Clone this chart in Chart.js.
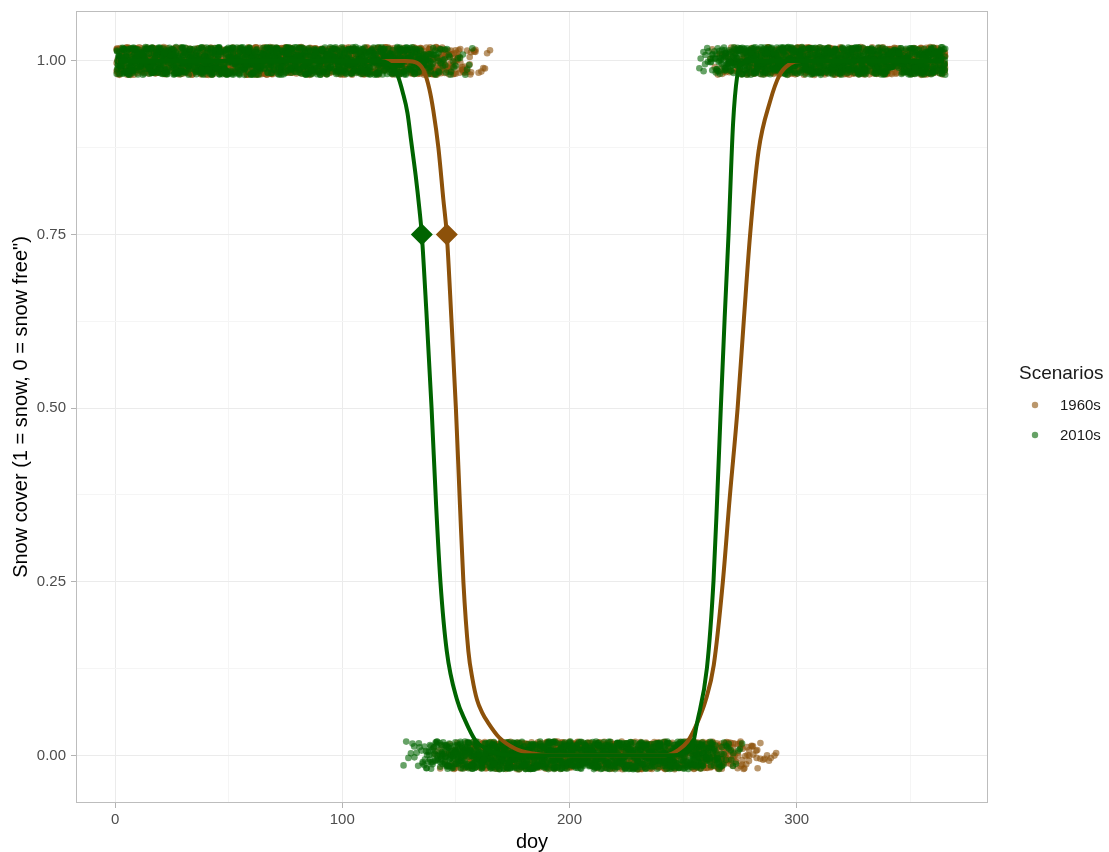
<!DOCTYPE html>
<html>
<head>
<meta charset="utf-8">
<title>Snow cover by day of year</title>
<script src="https://cdn.jsdelivr.net/npm/chart.js@4.4.0/dist/chart.umd.min.js"></script>
<style>
  html, body { margin: 0; padding: 0; background: #fff; }
</style>
</head>
<body>
<canvas id="snowChart" width="1109" height="852"></canvas>
<script>
// Scenario names and colours
const scenarios = ['1960s', '2010s'];
const lineColors = ['#8c510a', '#006400'];
const pointColors = ['rgba(140, 81, 10, 0.6)', 'rgba(0, 100, 0, 0.6)'];

// Per-year last snow day in spring and first snow day in autumn (doy)
const meltDoy1960s = [139, 142, 145, 147, 149, 151, 153, 156, 159, 165];
const onsetDoy1960s = [262, 265, 268, 270, 272, 274, 277, 280, 285, 292];
const meltDoy2010s = [126, 131, 134, 136, 138, 140, 142, 145, 149, 157];
const onsetDoy2010s = [257, 259, 261, 263, 265, 266, 268, 270, 273, 277];

// Fitted snow cover curves
const curveDoy1960s = [1, 128, 133, 136, 138.3, 140.1, 142.3, 144.5, 146, 148, 150, 151.8, 153.3, 155.5, 157.3, 159.3, 161.5, 164, 169, 176, 183, 192,
                       242, 248, 252, 256, 260, 263.5, 267.5, 270.5, 274, 276.8, 279.5, 283.2, 288.3, 292.5, 297.1, 302, 365];
const curveFit1960s = [1, 1, 0.997, 0.985, 0.96, 0.928, 0.875, 0.8, 0.75, 0.63, 0.5, 0.36, 0.25, 0.15, 0.11, 0.08, 0.062, 0.048, 0.026, 0.01, 0.003, 0,
                       0, 0.008, 0.02, 0.045, 0.08, 0.13, 0.25, 0.37, 0.5, 0.63, 0.75, 0.87, 0.942, 0.98, 0.996, 1, 1];
const curveDoy2010s = [1, 117, 120, 122.5, 124.5, 126.6, 128.7, 130.3, 132.3, 134, 135, 137, 139.3, 141.3, 143.2, 146, 150.5, 154.1, 158.5, 163, 168, 175,
                       246, 250, 253.9, 256.1, 260.5, 263.4, 265, 266.6, 268.3, 270, 272, 273.8, 276, 280, 365];
const curveFit2010s = [1, 1, 0.997, 0.99, 0.978, 0.955, 0.925, 0.885, 0.835, 0.785, 0.75, 0.64, 0.5, 0.36, 0.25, 0.15, 0.08, 0.05, 0.022, 0.01, 0.003, 0,
                       0, 0.003, 0.012, 0.046, 0.126, 0.252, 0.37, 0.5, 0.63, 0.75, 0.91, 0.978, 0.997, 1, 1];

// Day at which the fitted curve crosses 0.75
const thresholdLevel = 0.75;
const thresholdDoy = [146, 135];

// Axis ticks
const xTicks = [0, 50, 100, 150, 200, 250, 300, 350];
const yTicks = [0, 0.125, 0.25, 0.375, 0.5, 0.625, 0.75, 0.875, 1];

// small deterministic generator for geom_jitter-style display offsets
let seed = 20240611;
function rand() {
    seed = (seed + 0x6D2B79F5) | 0;
    let t = Math.imul(seed ^ (seed >>> 15), 1 | seed);
    t = (t + Math.imul(t ^ (t >>> 7), 61 | t)) ^ t;
    return ((t ^ (t >>> 14)) >>> 0) / 4294967296;
}

// One 0/1 observation per day per year, jittered like geom_jitter(width = 0.4, height = 0.02)
function buildPoints(melt, onset) {
    const pts = [];
    for (let yr = 0; yr < melt.length; yr++) {
        for (let d = 1; d <= 365; d++) {
            const snow = (d <= melt[yr] || d >= onset[yr]) ? 1 : 0;
            pts.push({ x: d + (rand() - 0.5) * 0.8, y: snow + (rand() - 0.5) * 0.04 });
        }
    }
    return pts;
}

function toXY(xs, ys) {
    return xs.map((x, i) => ({ x: x, y: ys[i] }));
}

const isMajorX = v => v % 100 === 0;
const isMajorY = v => Math.abs(v * 4 - Math.round(v * 4)) < 1e-6;

// Panel border + legend drawn on the canvas
const panelAndLegend = {
    id: 'panelAndLegend',
    afterDatasetsDraw(chart) {
        const { ctx, chartArea } = chart;
        ctx.save();
        ctx.strokeStyle = '#bdbdbd';
        ctx.lineWidth = 1;
        ctx.strokeRect(chartArea.left + 0.5, chartArea.top + 0.5,
            chartArea.right - chartArea.left - 1, chartArea.bottom - chartArea.top - 1);

        ctx.fillStyle = '#1a1a1a';
        ctx.textBaseline = 'alphabetic';
        ctx.font = '19px "Liberation Sans", Arial, sans-serif';
        ctx.fillText('Scenarios', 1019, 379);
        ctx.font = '15px "Liberation Sans", Arial, sans-serif';
        scenarios.forEach((name, i) => {
            const y = 405 + i * 30;
            ctx.fillStyle = pointColors[i];
            ctx.beginPath();
            ctx.arc(1035, y, 3.2, 0, Math.PI * 2);
            ctx.fill();
            ctx.fillStyle = '#1a1a1a';
            ctx.fillText(name, 1060, y + 5);
        });
        ctx.restore();
    }
};

const ctx = document.getElementById('snowChart').getContext('2d');

new Chart(ctx, {
    type: 'scatter',
    data: {
        datasets: [
            {
                label: scenarios[0],
                data: buildPoints(meltDoy1960s, onsetDoy1960s),
                backgroundColor: pointColors[0],
                borderWidth: 0,
                pointRadius: 3.3,
                order: 5
            },
            {
                label: scenarios[1],
                data: buildPoints(meltDoy2010s, onsetDoy2010s),
                backgroundColor: pointColors[1],
                borderWidth: 0,
                pointRadius: 3.3,
                order: 4
            },
            {
                label: scenarios[0] + ' fit',
                data: toXY(curveDoy1960s, curveFit1960s),
                showLine: true,
                borderColor: lineColors[0],
                borderWidth: 4,
                pointRadius: 0,
                cubicInterpolationMode: 'monotone',
                order: 3
            },
            {
                label: scenarios[1] + ' fit',
                data: toXY(curveDoy2010s, curveFit2010s),
                showLine: true,
                borderColor: lineColors[1],
                borderWidth: 4,
                pointRadius: 0,
                cubicInterpolationMode: 'monotone',
                order: 2
            },
            {
                label: 'threshold',
                data: thresholdDoy.map(d => ({ x: d, y: thresholdLevel })),
                pointStyle: 'rectRot',
                pointRadius: 11,
                backgroundColor: lineColors,
                borderWidth: 0,
                order: 1
            }
        ]
    },
    options: {
        responsive: false,
        animation: false,
        events: [],
        layout: { padding: { top: 10, right: 121, left: 0, bottom: 0 } },
        plugins: {
            legend: { display: false },
            tooltip: { enabled: false }
        },
        scales: {
            x: {
                type: 'linear',
                min: -17.2,
                max: 384.2,
                afterBuildTicks: scale => { scale.ticks = xTicks.map(v => ({ value: v })); },
                afterFit: scale => { scale.height = 49; scale.paddingLeft = 0; scale.paddingRight = 0; },
                border: { display: false },
                grid: {
                    color: c => isMajorX(c.tick.value) ? '#ebebeb' : '#f5f5f5',
                    tickColor: c => isMajorX(c.tick.value) ? '#b3b3b3' : 'rgba(0,0,0,0)',
                    tickLength: 5,
                    lineWidth: 1
                },
                ticks: {
                    autoSkip: false,
                    maxRotation: 0,
                    padding: 3,
                    color: '#4d4d4d',
                    font: { family: '"Liberation Sans", Arial, sans-serif', size: 15 },
                    callback: v => isMajorX(v) ? String(v) : ''
                },
                title: {
                    display: true,
                    text: 'doy',
                    color: '#000000',
                    font: { family: '"Liberation Sans", Arial, sans-serif', size: 20, lineHeight: 1 },
                    padding: { top: 0, bottom: 0 }
                }
            },
            y: {
                type: 'linear',
                min: -0.0686,
                max: 1.072,
                afterBuildTicks: scale => { scale.ticks = yTicks.map(v => ({ value: v })); },
                afterFit: scale => { scale.width = 76; scale.paddingTop = 0; scale.paddingBottom = 0; },
                border: { display: false },
                grid: {
                    color: c => isMajorY(c.tick.value) ? '#ebebeb' : '#f5f5f5',
                    tickColor: c => isMajorY(c.tick.value) ? '#b3b3b3' : 'rgba(0,0,0,0)',
                    tickLength: 5,
                    lineWidth: 1
                },
                ticks: {
                    autoSkip: false,
                    padding: 5,
                    color: '#4d4d4d',
                    font: { family: '"Liberation Sans", Arial, sans-serif', size: 15 },
                    callback: v => isMajorY(v) ? v.toFixed(2) : ''
                },
                title: {
                    display: true,
                    text: 'Snow cover (1 = snow, 0 = snow free")',
                    color: '#000000',
                    font: { family: '"Liberation Sans", Arial, sans-serif', size: 20 },
                    padding: { top: 9, bottom: 0 }
                }
            }
        }
    },
    plugins: [panelAndLegend]
});
</script>
</body>
</html>
